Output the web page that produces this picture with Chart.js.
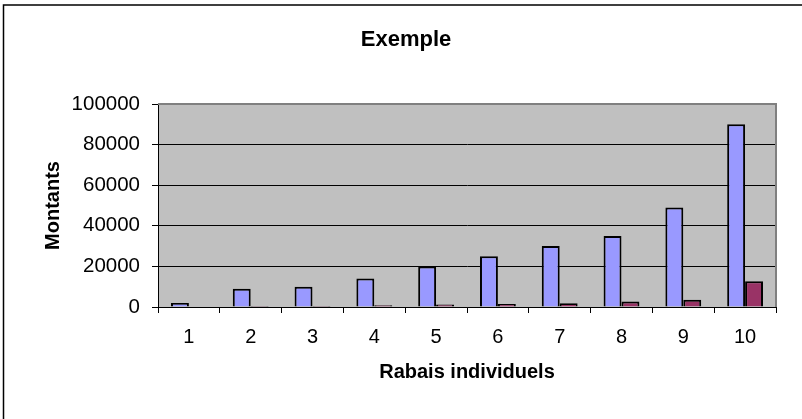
<!DOCTYPE html>
<html lang="fr">
<head>
<meta charset="utf-8">
<title>Exemple</title>
<script src="https://cdn.jsdelivr.net/npm/chart.js@4/dist/chart.umd.min.js"></script>
<style>
  html, body { margin: 0; padding: 0; background: #fff; }
  #wrap { width: 802px; height: 419px; position: relative; }
</style>
</head>
<body>
<div id="wrap"><canvas id="chart"></canvas></div>
<script>
  // Values
  const categories = ["1", "2", "3", "4", "5", "6", "7", "8", "9", "10"];
  const seriesBlue = [2000, 9000, 10000, 14000, 20000, 25000, 30000, 35000, 49000, 90000];
  const seriesRed = [0, 450, 500, 900, 1200, 1500, 1800, 2700, 3600, 12700];
  const yTicks = [0, 20000, 40000, 60000, 80000, 100000];

  const FONT = "'Liberation Sans', Arial, sans-serif";

  // Outer frame, grey plot background and the grey top/right plot border
  const excelLook = {
    id: "excelLook",
    beforeDraw(chart) {
      const { ctx, chartArea: a } = chart;
      ctx.save();
      ctx.fillStyle = "#c0c0c0";
      ctx.fillRect(a.left, a.top, a.right - a.left, a.bottom - a.top);
      ctx.strokeStyle = "#000";
      ctx.lineWidth = 1.5;
      ctx.beginPath();
      ctx.moveTo(3.5, chart.height);
      ctx.lineTo(3.5, 5);
      ctx.lineTo(chart.width, 5);
      ctx.stroke();
      ctx.restore();
    },
    afterDraw(chart) {
      const { ctx, chartArea: a } = chart;
      ctx.save();
      ctx.strokeStyle = "#808080";
      ctx.lineWidth = 2;
      ctx.beginPath();
      ctx.moveTo(a.left, a.top);
      ctx.lineTo(a.right, a.top);
      ctx.lineTo(a.right, a.bottom);
      ctx.stroke();
      ctx.restore();
    },
  };

  new Chart(document.getElementById("chart"), {
    type: "bar",
    data: {
      labels: categories,
      datasets: [
        {
          data: seriesBlue,
          backgroundColor: "#9999ff",
          borderColor: "#000",
          borderWidth: 2,
          categoryPercentage: 0.58,
          barPercentage: 1,
        },
        {
          data: seriesRed,
          backgroundColor: "#993366",
          borderColor: "#000",
          borderWidth: 2,
          categoryPercentage: 0.58,
          barPercentage: 1,
        },
      ],
    },
    options: {
      responsive: true,
      maintainAspectRatio: false,
      animation: false,
      // left padding shifts the title centre to where the reference has it
      layout: { padding: { left: 36, right: 26, top: 0, bottom: 0 } },
      plugins: {
        legend: { display: false },
        tooltip: { enabled: false },
        title: {
          display: true,
          text: "Exemple",
          color: "#000",
          font: { family: FONT, size: 22, weight: "bold" },
          padding: { top: 27, bottom: 50.6 },
        },
      },
      scales: {
        x: {
          afterFit: (s) => { s.height = 112; },
          border: { color: "#000", width: 1 },
          grid: {
            offset: true,
            drawOnChartArea: false,
            color: "#000",
            tickLength: 6,
          },
          ticks: { color: "#000", padding: 12, font: { family: FONT, size: 20 } },
          title: {
            display: true,
            text: "Rabais individuels",
            color: "#000",
            font: { family: FONT, size: 20, weight: "bold" },
            padding: { top: 0, bottom: 35 },
          },
        },
        y: {
          min: 0,
          max: 100000,
          afterFit: (s) => { s.width = 122; },
          afterBuildTicks: (s) => { s.ticks = yTicks.map((v) => ({ value: v })); },
          border: { color: "#000", width: 1 },
          grid: {
            color: (c) => (c.tick && c.tick.value === 100000 ? "rgba(0,0,0,0)" : "#000"),
            tickColor: "#000",
            tickLength: 6,
          },
          ticks: {
            color: "#000",
            padding: 12,
            font: { family: FONT, size: 20.5 },
            callback: (v) => String(v),
          },
          title: {
            display: true,
            text: "Montants",
            color: "#000",
            font: { family: FONT, size: 20, weight: "bold" },
            padding: { top: 5, bottom: 0 },
          },
        },
      },
    },
    plugins: [excelLook],
  });
</script>
</body>
</html>
